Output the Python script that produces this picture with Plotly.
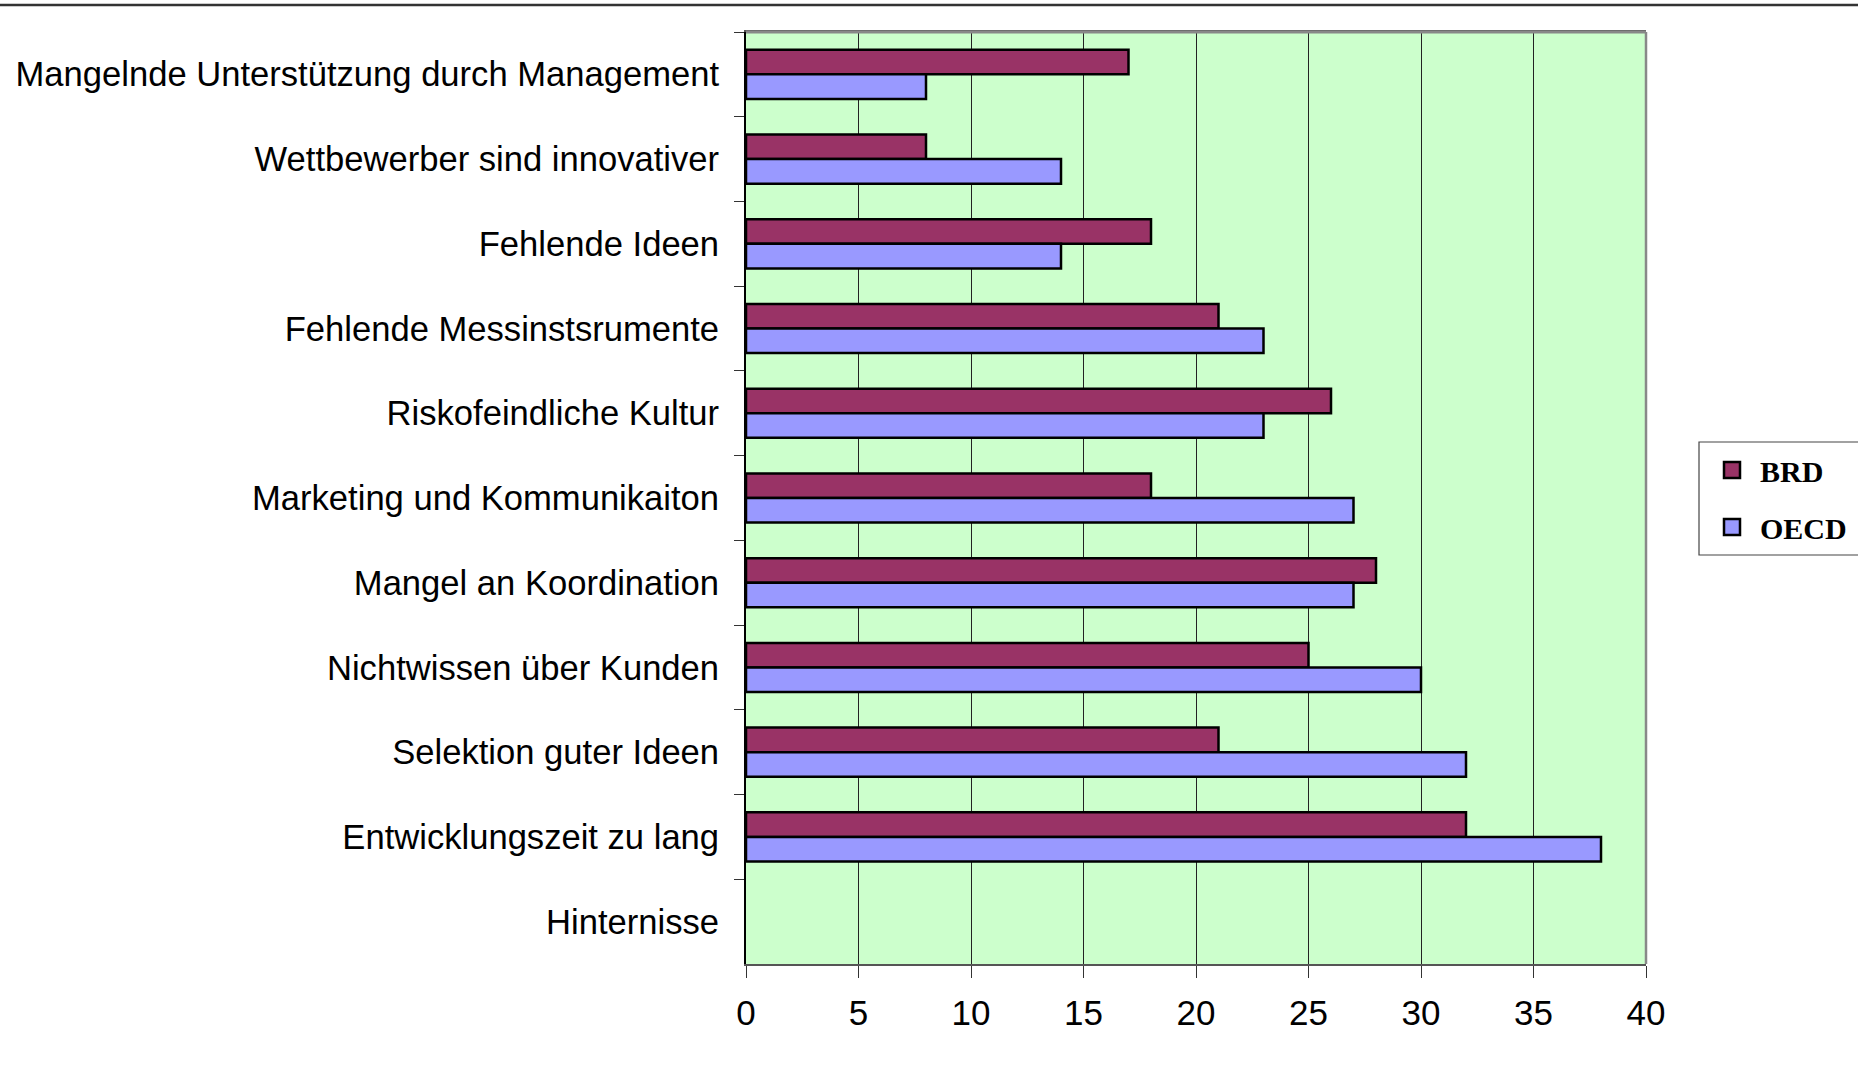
import plotly.graph_objects as go

categories = [
    "Mangelnde Unterstützung durch Management",
    "Wettbewerber sind innovativer",
    "Fehlende Ideen",
    "Fehlende Messinstsrumente",
    "Riskofeindliche Kultur",
    "Marketing und Kommunikaiton",
    "Mangel an Koordination",
    "Nichtwissen über Kunden",
    "Selektion guter Ideen",
    "Entwicklungszeit zu lang",
    "Hinternisse",
]
brd = [17, 8, 18, 21, 26, 18, 28, 25, 21, 32, None]
oecd = [8, 14, 14, 23, 23, 27, 27, 30, 32, 38, None]
x_ticks = [0, 5, 10, 15, 20, 25, 30, 35, 40]

C_BRD = "#993366"
C_OECD = "#9999FF"

W, H = 1858, 1069
L, R, T, B = 746, 212, 32, 105
PW, PH = W - L - R, H - T - B


def px_x(p):
    return (p - L) / PW


def px_y(p):
    return (H - B - p) / PH


fig = go.Figure()
fig.add_trace(go.Bar(y=categories, x=brd, orientation="h", name="BRD",
                     marker=dict(color=C_BRD, line=dict(color="black", width=2.5)),
                     showlegend=False))
fig.add_trace(go.Bar(y=categories, x=oecd, orientation="h", name="OECD",
                     marker=dict(color=C_OECD, line=dict(color="black", width=2.5)),
                     showlegend=False))
# legend entries
for nm, col in [("BRD", C_BRD), ("OECD", C_OECD)]:
    fig.add_trace(go.Scatter(x=[None], y=[None], mode="markers", name=nm,
                             legendgroup=nm,
                             marker=dict(symbol="square", size=18, color=col,
                                         line=dict(color="black", width=2.5))))

fig.update_layout(
    width=W, height=H,
    margin=dict(l=L, r=R, t=T, b=B, pad=0, autoexpand=False),
    paper_bgcolor="white",
    plot_bgcolor="#CCFFCC",
    barmode="group",
    bargap=0.42,
    bargroupgap=0,
    font=dict(family="Liberation Sans, Arial, sans-serif", size=34.6, color="black"),
    legend=dict(
        x=px_x(1704), y=px_y(444), xanchor="left", yanchor="top",
        font=dict(family="Liberation Serif, Times New Roman, serif", size=30, color="black",
                  weight="bold"),
        bgcolor="rgba(0,0,0,0)", borderwidth=0,
        traceorder="grouped", tracegroupgap=15,
        itemsizing="trace", itemwidth=46,
    ),
    xaxis=dict(
        range=[0, 40], tickvals=x_ticks, ticktext=[str(v) for v in x_ticks],
        showgrid=True, gridcolor="#222222", gridwidth=1,
        ticks="outside", ticklen=12, tickwidth=1, tickcolor="#333333",
        showline=True, linecolor="#555555", linewidth=2, mirror=True,
        zeroline=False, ticklabelstandoff=5, automargin=False,
        tickfont=dict(size=35),
    ),
    yaxis=dict(
        autorange="reversed", type="category",
        ticks="outside", ticklen=10, tickwidth=1, tickcolor="#333333",
        tickson="boundaries",
        showline=True, linecolor="black", linewidth=2,
        showgrid=False, zeroline=False, ticklabelstandoff=18, automargin=False,
        tickfont=dict(size=34.6),
    ),
    shapes=[
        # top separator line across the page
        dict(type="line", xref="paper", yref="paper",
             x0=px_x(0), x1=px_x(W), y0=px_y(5), y1=px_y(5),
             line=dict(color="#333333", width=2.5)),
        # right plot border
        dict(type="line", xref="paper", yref="paper",
             x0=1, x1=1, y0=0, y1=1, line=dict(color="#888888", width=2.5)),
        # top plot border
        dict(type="line", xref="paper", yref="paper",
             x0=0, x1=1, y0=1, y1=1, line=dict(color="#888888", width=3)),
        # legend box
        dict(type="rect", xref="paper", yref="paper",
             x0=px_x(1699), x1=px_x(1880), y0=px_y(555), y1=px_y(442),
             line=dict(color="#444444", width=1.2), fillcolor="rgba(0,0,0,0)"),
    ],
)

fig.write_html("out.html", config={"displayModeBar": False},
               post_script="document.body.style.margin='0px';")
